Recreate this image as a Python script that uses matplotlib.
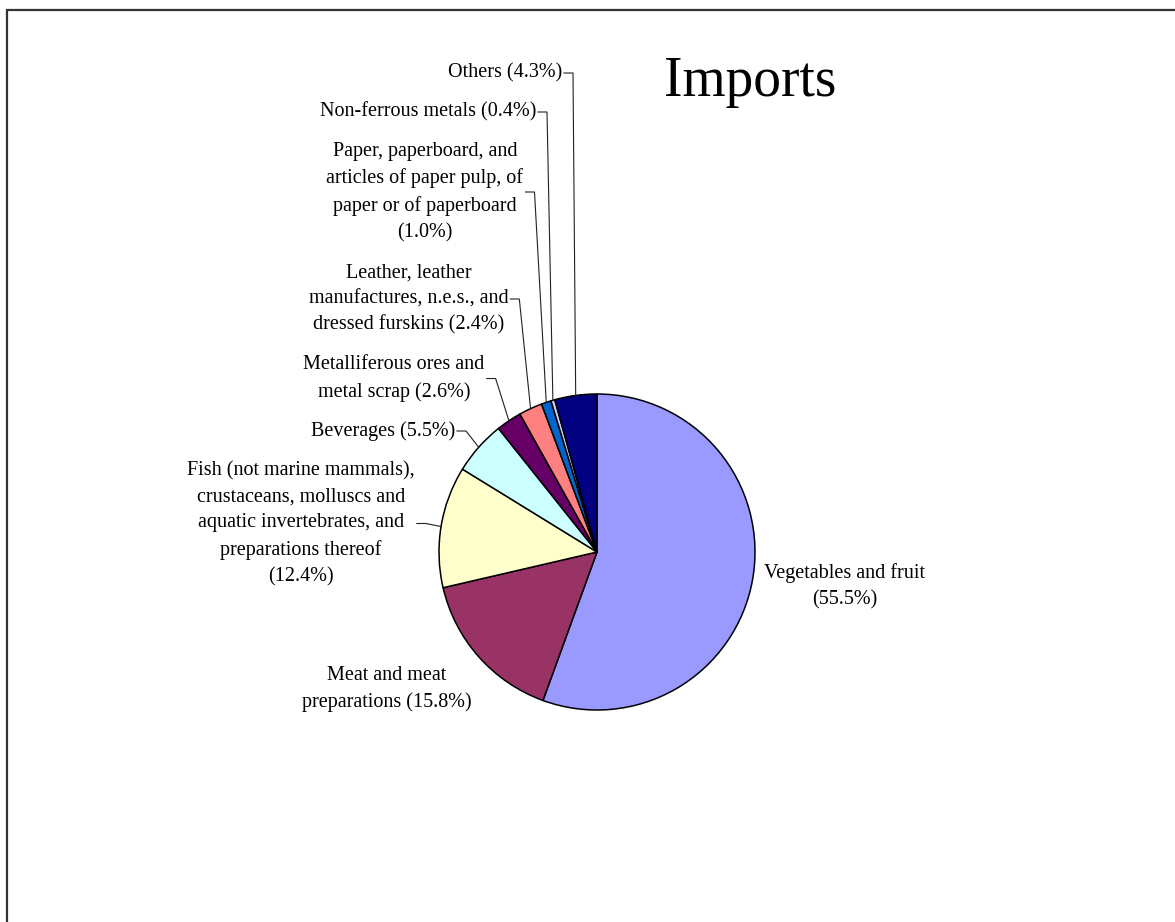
import matplotlib
matplotlib.use("Agg")
import matplotlib.pyplot as plt
from matplotlib.patches import Rectangle
import numpy as np

# ---- data ----
categories = [
    "Vegetables and fruit",
    "Meat and meat\npreparations",
    "Fish (not marine mammals),\ncrustaceans, molluscs and\naquatic invertebrates, and\npreparations thereof",
    "Beverages",
    "Metalliferous ores and\nmetal scrap",
    "Leather, leather\nmanufactures, n.e.s., and\ndressed furskins",
    "Paper, paperboard, and\narticles of paper pulp, of\npaper or of paperboard",
    "Non-ferrous metals",
    "Others",
]
values = [55.5, 15.8, 12.4, 5.5, 2.6, 2.4, 1.0, 0.4, 4.3]
colors = ["#9999FF", "#993366", "#FFFFCC", "#CCFFFF", "#660066",
          "#FF8080", "#0066CC", "#CCCCFF", "#000080"]
title = "Imports"

# ---- layout (pixel coords, origin top-left) ----
W, H = 1175, 922
pct_sep = ["\n", " ", "\n", " ", " ", " ", "\n", " ", " "]
label_pos = [(845, 586), (387, 689), (301, 523.5), (455, 431), (394, 378.5),
             (408.5, 299), (425, 192), (536, 112), (562, 73)]
label_ha = ["center", "center", "center", "right", "center",
            "center", "center", "right", "right"]
has_leader = [False, False, True, True, True, True, True, True, True]
cx, cy, R = 597, 552, 158

FONT = "Liberation Serif"

fig = plt.figure(figsize=(W / 100, H / 100), dpi=100)
ax = fig.add_axes([0, 0, 1, 1])

wedges, _ = ax.pie(values, colors=colors, startangle=90, counterclock=False,
                   center=(cx, H - cy), radius=R,
                   wedgeprops=dict(edgecolor="black", linewidth=1.1))
ax.set_xlim(0, W)
ax.set_ylim(0, H)
ax.set_aspect("equal")
ax.set_axis_off()

# frame
ax.add_patch(Rectangle((7, -50), W + 50, (H - 10) + 50, fill=False,
                       edgecolor="#333333", linewidth=1.6, clip_on=False))

texts = []
for name, v, sep, (px, py), ha in zip(categories, values, pct_sep, label_pos, label_ha):
    t = ax.text(px, H - py, f"{name}{sep}({v:.1f}%)", ha=ha, va="center",
                multialignment="center", fontsize=14.5, family=FONT,
                linespacing=1.5, color="black")
    texts.append(t)

ax.text(750, H - 82, title, ha="center", va="center", fontsize=40,
        family=FONT, color="black")

fig.canvas.draw()
renderer = fig.canvas.get_renderer()
inv = ax.transData.inverted()
for w, t, lead in zip(wedges, texts, has_leader):
    if not lead:
        continue
    bb = t.get_window_extent(renderer).transformed(inv)
    xr = bb.x1 + 2
    yc = t.get_position()[1]
    mid = np.deg2rad((w.theta1 + w.theta2) / 2)
    ex = cx + R * np.cos(mid)
    ey = (H - cy) + R * np.sin(mid)
    ax.plot([xr, xr + 9, ex], [yc, yc, ey], color="#222222", linewidth=0.8,
            solid_joinstyle="miter")

fig.savefig("out.png", dpi=100)
